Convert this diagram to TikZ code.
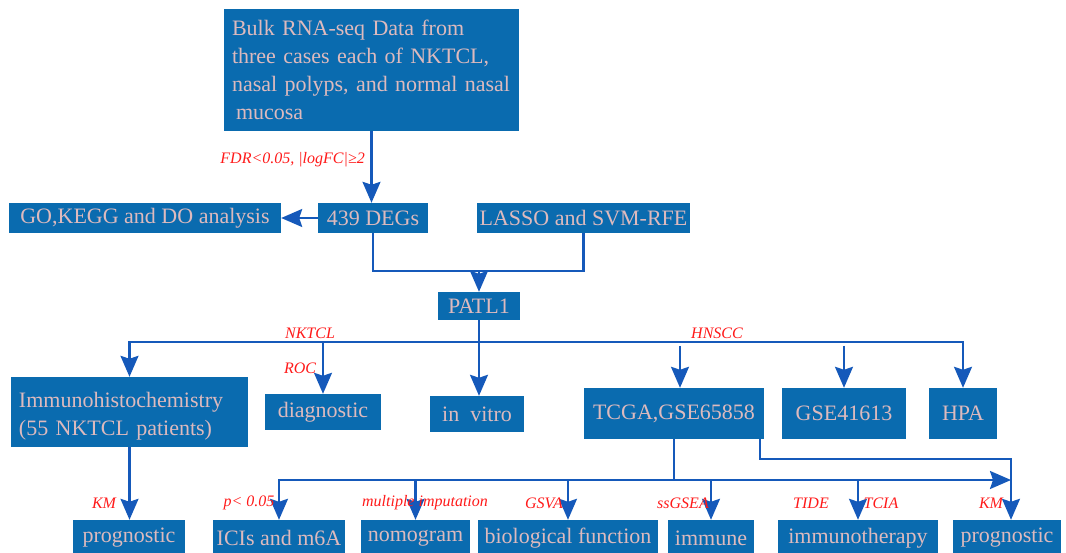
\documentclass[tikz,border=0pt]{standalone}
\usepackage{fontspec}
\setmainfont{Liberation Serif}
\usetikzlibrary{arrows.meta}
\definecolor{boxblue}{HTML}{0A6BAF}
\definecolor{txtpink}{HTML}{DDBABE}
\definecolor{arrblue}{HTML}{1559BA}
\definecolor{lblred}{HTML}{FF1A1A}
\begin{document}
\begin{tikzpicture}[x=1pt,y=-1pt,
  box/.style={fill=boxblue,text=txtpink,inner sep=0pt,font=\fontsize{22}{28}\selectfont,anchor=center},
  boxtext/.style={text=txtpink,inner sep=0pt,font=\fontsize{22}{28}\selectfont},
  conn/.style={draw=arrblue,line width=2.2pt},
  tipa/.tip={Stealth[length=21pt,width=18pt,inset=3pt]},
  arr/.style={conn,-tipa},
  dbl/.style={conn,tipa-tipa},
  lbl/.style={text=lblred,font=\fontsize{16}{18}\selectfont\itshape,inner sep=0pt}]
\useasboundingbox (0,0) rectangle (1066,553);
% boxes
\node[box,text width=279pt,inner xsep=8pt,align=left,minimum height=122pt] (top) at (371.5,70)
  {Bulk RNA-seq Data from\\three cases each of NKTCL,\\nasal polyps, and normal nasal\\\hspace*{4pt}mucosa};
\node[box,minimum width=272pt,minimum height=30pt] (go) at (145,218) {GO,KEGG and DO analysis};
\node[box,minimum width=110pt,minimum height=30pt] (degs) at (373,218) {439 DEGs};
\node[box,minimum width=213pt,minimum height=30pt] (lasso) at (583.5,218) {LASSO and SVM-RFE};
\node[box,minimum width=82pt,minimum height=28pt] (patl) at (479,306) {PATL1};
\node[box,minimum width=237pt,minimum height=70pt] (immuno) at (129.5,412) {};
\node[boxtext,text width=221pt,align=left] (immunotxt) at ([yshift=-4pt]immuno.center)
  {Immunohistochemistry\\(55 NKTCL patients)};
\node[box,minimum width=116pt,minimum height=36pt] (diag) at (323,412) {diagnostic};
\node[box,minimum width=94pt,minimum height=36pt] (invitro) at (477,414) {in\ \ vitro};
\node[box,minimum width=180pt,minimum height=51pt] (tcga) at (674,413.5) {TCGA,GSE65858};
\node[box,minimum width=124pt,minimum height=51pt] (gse) at (844,413.5) {GSE41613};
\node[box,minimum width=68pt,minimum height=51pt] (hpa) at (963,413.5) {HPA};
\node[box,minimum width=112pt,minimum height=36pt] (progL) at (129,538) {prognostic};
\node[box,minimum width=132pt,minimum height=36pt] (icis) at (279,538) {ICIs and m6A};
\node[box,minimum width=109pt,minimum height=36pt] (nomo) at (415.5,538) {nomogram};
\node[box,minimum width=180pt,minimum height=36pt] (bio) at (568,538) {biological function};
\node[box,minimum width=86pt,minimum height=36pt] (immune) at (711,538) {immune};
\node[box,minimum width=160pt,minimum height=36pt] (ither) at (858,538) {immunotherapy};
\node[box,minimum width=108pt,minimum height=36pt] (progR) at (1007,538) {prognostic};
% helper rows
\coordinate (mergey) at (0,271);
\coordinate (bus1) at (0,342);
\coordinate (bus1b) at (0,346);
\coordinate (bus3) at (0,459);
\coordinate (bus2) at (0,480);
\coordinate (tcgaL) at ([xshift=6pt]tcga.north);
\coordinate (tcgaR) at ([xshift=-4pt]tcga.south east);
\coordinate (progRin) at ([xshift=4pt]progR.north);
% connectors
\draw[arr] (top.south) -- (top.south |- degs.north);
\draw[arr] (degs.west) -- (go.east);
\draw[conn] (degs.south) |- (lasso.south |- mergey) -- (lasso.south);
\draw[arr] (patl.north |- mergey) -- (patl.north);
\draw[arr] (patl.south) -- (patl.south |- invitro.north);
\draw[dbl] (immuno.north) -- (immuno.north |- bus1) -- (hpa.north |- bus1) -- (hpa.north);
\draw[arr] (diag.north |- bus1) -- (diag.north);
\draw[arr] (tcgaL |- bus1b) -- (tcgaL);
\draw[arr] (gse.north |- bus1b) -- (gse.north);
\draw[arr] (immuno.south) -- (immuno.south |- progL.north);
\draw[conn] (tcga.south) -- (tcga.south |- bus2);
\draw[dbl] (icis.north) -- (icis.north |- bus2) -- (progRin |- bus2);
\draw[arr] (tcgaR) |- (progRin |- bus3) -- (progRin);
\draw[arr] (nomo.north |- bus2) -- (nomo.north);
\draw[arr] (bio.north |- bus2) -- (bio.north);
\draw[arr] (immune.north |- bus2) -- (immune.north);
\draw[arr] (ither.north |- bus2) -- (ither.north);
% labels
\node[lbl,anchor=east] (lfdr) at (365,160) {FDR<0.05, |logFC|≥2};
\node[lbl] (lnk) at (310,333) {NKTCL};
\node[lbl] (lhn) at (717,333) {HNSCC};
\node[lbl] (lroc) at (300,368) {ROC};
\node[lbl] (lkm1) at (104,503) {KM};
\node[lbl] (lp) at (249,503) {p< 0.05};
\node[lbl] (lmi) at (425,503) {multiple imputation};
\node[lbl] (lgsva) at (544,503) {GSVA};
\node[lbl] (lss) at (683,503) {ssGSEA};
\node[lbl] (ltide) at (811,503) {TIDE};
\node[lbl] (ltcia) at (881,503) {TCIA};
\node[lbl] (lkm2) at (991,503) {KM};
\end{tikzpicture}
\end{document}
